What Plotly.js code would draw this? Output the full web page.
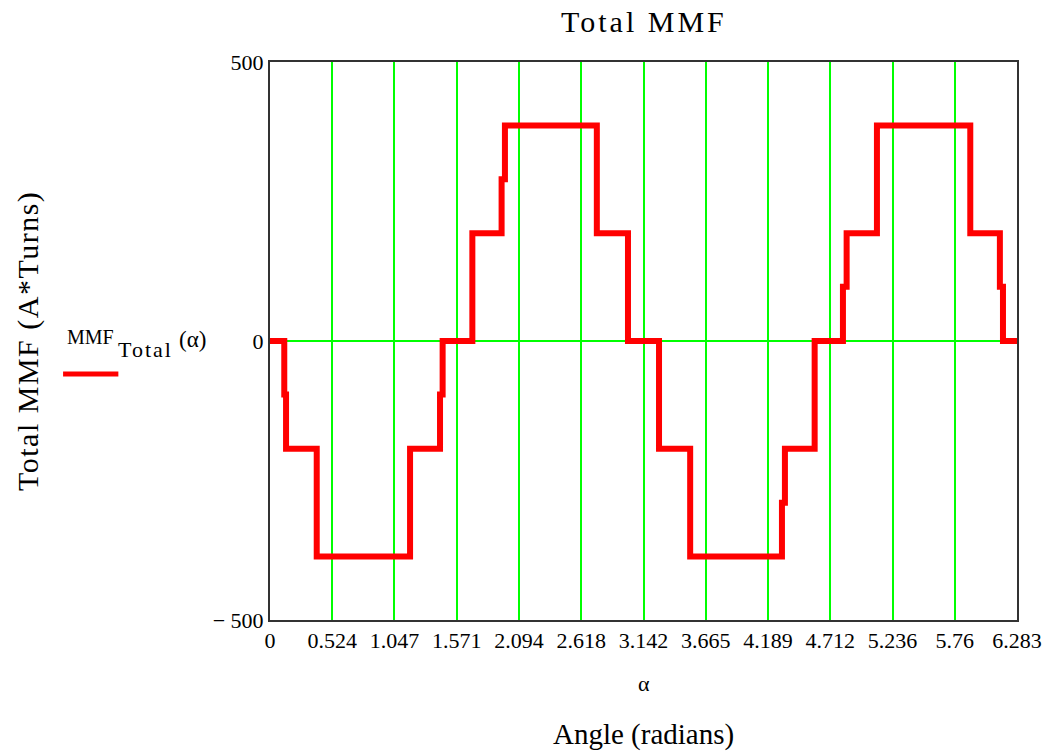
<!DOCTYPE html>
<html>
<head>
<meta charset="utf-8">
<script src="https://cdn.plot.ly/plotly-3.0.1.min.js"></script>
<style>html,body{margin:0;padding:0;background:#fff;}#chart{width:1052px;height:752px;}</style>
</head>
<body>
<div id="chart"></div>
<script>
// Vertices of the stepped MMF waveform (angle in radians, MMF in A*Turns)
const alpha = [0, 0.120, 0.120, 0.135, 0.135, 0.393, 0.393, 1.178, 1.178, 1.430, 1.430, 1.452, 1.452,
  1.702, 1.702, 1.948, 1.948, 1.976, 1.976, 2.749, 2.749, 3.011, 3.011,
  3.272, 3.272, 3.534, 3.534, 4.306, 4.306, 4.331, 4.331, 4.581, 4.581,
  4.819, 4.819, 4.850, 4.850, 5.105, 5.105, 5.890, 5.890, 6.139, 6.139, 6.165, 6.165, 6.283];
const mmf = [0, 0, -96, -96, -193, -193, -386, -386, -193, -193, -96, -96, 0,
  0, 193, 193, 290, 290, 386, 386, 193, 193, 0,
  0, -193, -193, -386, -386, -290, -290, -193, -193, 0,
  0, 97, 97, 193, 193, 386, 386, 193, 193, 97, 97, 0, 0];

const xTickVals = [0, 0.524, 1.047, 1.571, 2.094, 2.618, 3.142, 3.665, 4.189, 4.712, 5.236, 5.76, 6.283];
const xTickText = ["0", "0.524", "1.047", "1.571", "2.094", "2.618", "3.142", "3.665", "4.189", "4.712", "5.236", "5.76", "6.283"];
const yTickVals = [-500, 0, 500];
const yTickText = ["\u2212 500", "0", "500"];

const serif = "Liberation Serif, Times New Roman, serif";

const trace = {
  x: alpha, y: mmf, type: 'scatter', mode: 'lines',
  line: {color: '#ff0000', width: 6, shape: 'linear'},
  hoverinfo: 'skip', showlegend: false
};

function ann(text, x, y, size, extra) {
  return Object.assign({text: text, xref: 'paper', yref: 'paper', x: x, y: y, showarrow: false,
    font: {family: serif, size: size, color: '#000'}, xanchor: 'center', yanchor: 'middle'}, extra || {});
}

const layout = {
  width: 1052, height: 752,
  margin: {l: 270, r: 35, t: 62, b: 132},
  paper_bgcolor: '#ffffff', plot_bgcolor: '#ffffff',
  showlegend: false,
  font: {family: serif, size: 22, color: '#000'},
  xaxis: {
    range: [0, 6.283], tickmode: 'array', tickvals: xTickVals, ticktext: xTickText,
    showgrid: true, gridcolor: '#00ff00', gridwidth: 2,
    zeroline: false, showline: true, linecolor: '#333', linewidth: 2, mirror: true,
    ticks: '', tickfont: {family: serif, size: 22, color: '#000'}
  },
  yaxis: {
    range: [-500, 500], tickmode: 'array', tickvals: yTickVals, ticktext: yTickText,
    showgrid: true, gridcolor: '#00ff00', gridwidth: 2,
    zeroline: false, showline: true, linecolor: '#333', linewidth: 2, mirror: true,
    ticks: '', tickfont: {family: serif, size: 22, color: '#000'}
  },
  annotations: [
    ann('<span style="letter-spacing:3px">Total MMF</span>', 0.5, 1.072, 30),
    ann('\u03b1', 0.5, -0.113, 22),
    ann('Angle (radians)', 0.5, -0.206, 29),
    ann('<span style="letter-spacing:1.5px">Total MMF (A*Turns)</span>', -0.324, 0.5, 30, {textangle: -90}),
    ann('MMF', -0.240, 0.507, 20),
    ann('<span style="letter-spacing:2px">Total</span>', -0.166, 0.485, 22),
    ann('(\u03b1)', -0.104, 0.503, 23)
  ],
  shapes: [
    {type: 'line', xref: 'paper', yref: 'paper', x0: -0.277, x1: -0.203, y0: 0.441, y1: 0.441,
     line: {color: '#ff0000', width: 5}}
  ]
};

Plotly.newPlot('chart', [trace], layout, {displayModeBar: false, staticPlot: true});
</script>
</body>
</html>
